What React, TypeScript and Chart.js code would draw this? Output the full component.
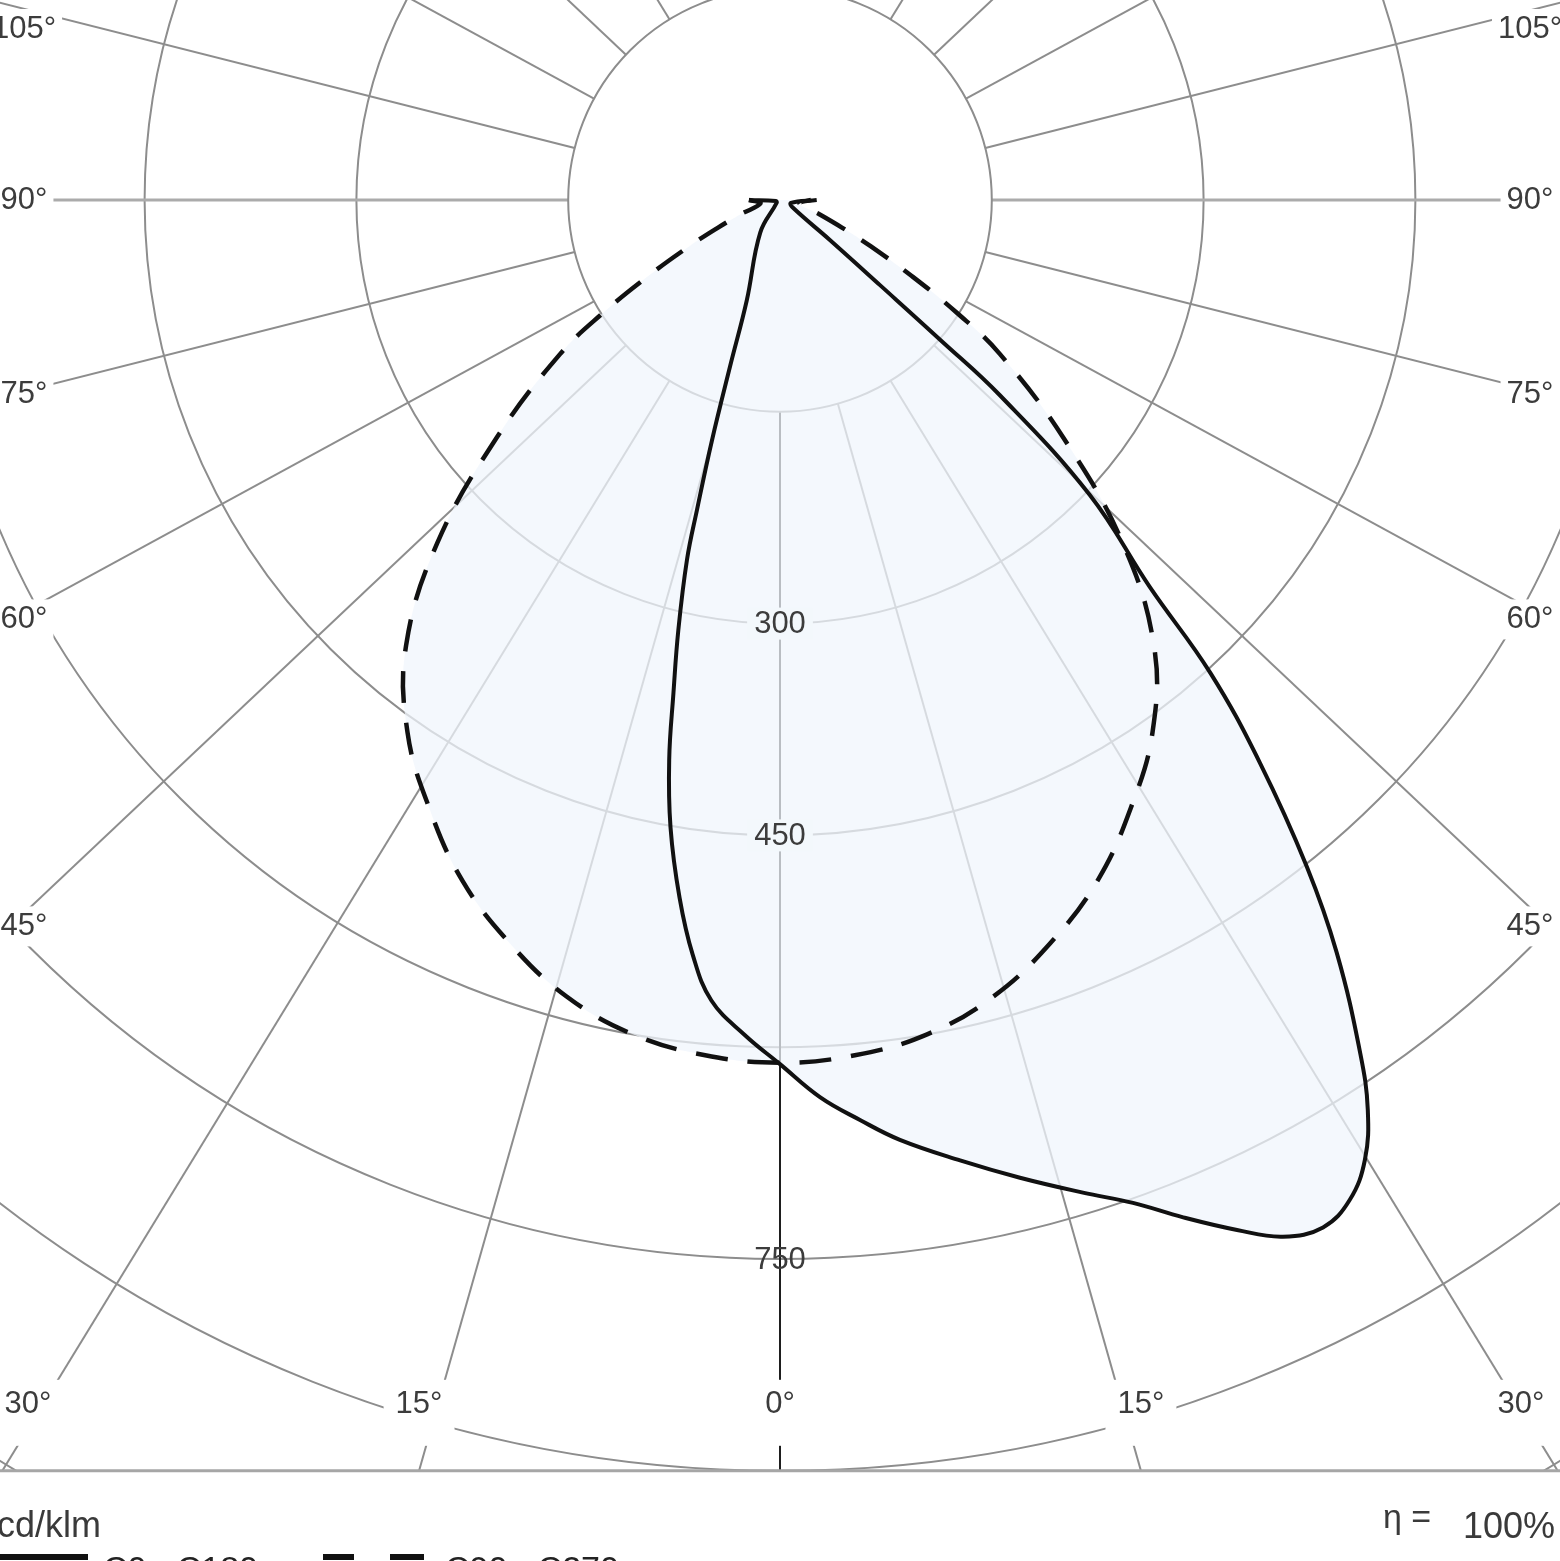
import React, { useEffect, useRef } from "react";
import { Chart, registerables } from "chart.js";

Chart.register(...registerables);

// gamma angle in degrees from nadir: negative = C180 half, positive = C0 half
const c0Angles = [
    -90, -75, -50, -31.2, -18.3, -16.7, -15.8, -15, -14.5, -13.3, -12.2, -11.2, -9.9, -8.2, -6.6, -4.9, -2.4, 0,
    2.55, 4.97, 7.27, 10.62, 13.79, 16.97, 19.39, 21.62, 23.93, 25.88, 27.86, 29.68, 31.36, 32.87, 34.21,
    36.49, 38.31, 40.45, 42.3, 43.7, 46.4, 48.4, 48.9, 49.6, 51.3, 60, 75, 90,
];
const c0Values = [
    22, 3, 3, 27, 75, 123, 177, 227, 263, 313, 357, 404, 451, 499, 538, 569, 592, 612,
    636, 654, 671, 692, 713, 735, 753, 775, 798, 816, 823, 815, 796, 767, 731,
    663, 602, 524, 453, 379, 303, 208, 151, 93, 45, 10, 8, 26,
];

// C90 - C270 plane is symmetric, gamma 0..90
const c90Angles = [0, 5, 10, 15, 20, 25, 30, 35, 40, 45, 50, 55, 57.5, 60, 63, 66, 70, 80, 90];
const c90Values = [611, 608, 600, 584, 560, 532, 497, 460, 412, 343, 262, 190, 148, 108, 72, 48, 30, 14, 22];

const ringValues = [150, 300, 450, 600, 750, 900, 1050, 1200, 1350];
const ringLabels = [300, 450, 750];
const angleLabels = [0, 15, 30, 45, 60, 75, 90, 105];
const spokeAngles = Array.from({ length: 24 }, (_, i) => -165 + 15 * i);
const frameValue = 900;

const W = 1560;
const H = 1561;
const CX = 780;
const CY = 200;
const PX_PER_CD = 1.412;
const SPOKE_STRETCH = 1.06;
const FONT = '"Liberation Sans", Arial, sans-serif';
const GRID = "#8d8d8d";
const FILL = "rgba(240,246,252,0.74)";
const LABEL_BG = "#f3f8fc";

const toXY = (angle: number, value: number) => {
    const r = (angle * Math.PI) / 180;
    return { x: value * Math.sin(r), y: -value * Math.cos(r) };
};

const spokeDir = (angle: number): [number, number] => {
    const r = (angle * Math.PI) / 180;
    const dx = SPOKE_STRETCH * Math.sin(r);
    const dy = Math.cos(r);
    const n = Math.hypot(dx, dy);
    return [dx / n, dy / n];
};

const c0Points = c0Angles.map((a, i) => toXY(a, c0Values[i]));
const c90Points = [
    ...c90Angles.slice(1).reverse().map((a, i) => toXY(-a, c90Values[c90Values.length - 1 - i])),
    ...c90Angles.map((a, i) => toXY(a, c90Values[i])),
];

const polarPlugin = {
    id: "polarGrid",
    beforeDraw(chart: any) {
        const { ctx } = chart;
        ctx.save();
        ctx.fillStyle = "#fff";
        ctx.fillRect(0, 0, chart.width, chart.height);
        ctx.restore();
    },
    beforeDatasetsDraw(chart: any) {
        const { ctx } = chart;
        const xs = chart.scales.x;
        const ys = chart.scales.y;
        const cx = xs.getPixelForValue(0);
        const cy = ys.getPixelForValue(0);
        const unit = xs.getPixelForValue(1) - cx;
        const frameY = ys.getPixelForValue(-frameValue);
        const r0 = ringValues[0] * unit;

        ctx.save();
        ctx.beginPath();
        ctx.rect(0, 0, chart.width, frameY);
        ctx.clip();

        // rings
        ctx.lineWidth = 2;
        ctx.strokeStyle = GRID;
        for (const v of ringValues.slice(1)) {
            ctx.beginPath();
            ctx.arc(cx, cy, v * unit, 0, Math.PI * 2);
            ctx.stroke();
        }
        // spokes
        for (const a of spokeAngles) {
            const [dx, dy] = spokeDir(a);
            ctx.beginPath();
            ctx.moveTo(cx + dx * r0, cy + dy * r0);
            ctx.lineTo(cx + dx * 4000, cy + dy * 4000);
            if (a === 0) {
                ctx.strokeStyle = "#1e1e1e";
                ctx.lineWidth = 2;
            } else if (Math.abs(a) === 90) {
                ctx.strokeStyle = "#ababab";
                ctx.lineWidth = 3;
            } else {
                ctx.strokeStyle = GRID;
                ctx.lineWidth = 2;
            }
            ctx.stroke();
        }
        // inner disc
        ctx.beginPath();
        ctx.arc(cx, cy, r0, 0, Math.PI * 2);
        ctx.fillStyle = "#fff";
        ctx.fill();
        ctx.strokeStyle = GRID;
        ctx.lineWidth = 2;
        ctx.stroke();
        ctx.restore();

        // light fill of the union of both curves
        ctx.save();
        ctx.beginPath();
        for (const meta of chart.getSortedVisibleDatasetMetas()) {
            const line = meta.dataset;
            if (line && typeof line.path === "function") {
                if (typeof line.updateControlPoints === "function") line.updateControlPoints(chart.chartArea, "x");
                line.path(ctx);
            } else {
                meta.data.forEach((p: any, i: number) => (i ? ctx.lineTo(p.x, p.y) : ctx.moveTo(p.x, p.y)));
            }
            ctx.closePath();
        }
        ctx.fillStyle = FILL;
        ctx.fill("nonzero");
        ctx.restore();

        // intensity labels along the 0° axis
        ctx.save();
        ctx.font = `31px ${FONT}`;
        ctx.textAlign = "center";
        ctx.textBaseline = "middle";
        for (const v of ringLabels) {
            const yy = ys.getPixelForValue(-v);
            const text = String(v);
            if (v < 600) {
                const w = ctx.measureText(text).width;
                ctx.fillStyle = LABEL_BG;
                ctx.fillRect(cx - w / 2 - 7, yy - 16, w + 14, 32);
            }
            ctx.fillStyle = "#3c3c3c";
            ctx.fillText(text, cx, yy + 1);
        }
        ctx.restore();
    },
    afterDraw(chart: any) {
        const { ctx } = chart;
        const xs = chart.scales.x;
        const ys = chart.scales.y;
        const cx = xs.getPixelForValue(0);
        const cy = ys.getPixelForValue(0);
        const frameY = ys.getPixelForValue(-frameValue);

        ctx.save();
        ctx.font = `31px ${FONT}`;
        ctx.textAlign = "center";
        ctx.textBaseline = "middle";
        for (const a of angleLabels) {
            const sides = a === 0 ? [1] : [-1, 1];
            for (const side of sides) {
                const [dx, dy] = spokeDir(a * side);
                const text = `${a}°`;
                const w = ctx.measureText(text).width;
                let lx: number;
                let ly: number;
                ctx.fillStyle = "#fff";
                if (a < 45) {
                    const t = (frameY - cy) / dy;
                    lx = Math.min(Math.max(cx + t * dx, 28), W - 39);
                    ly = frameY - 66;
                    ctx.fillRect(lx - w / 2 - 12, frameY - 91, w + 24, 66);
                } else {
                    const edge = side < 0 ? 10 : W - 10;
                    const t = (edge - cx) / dx;
                    ly = Math.max(29, cy + t * dy);
                    lx = side < 0 ? 24 : W - 30;
                    if (side < 0) ctx.fillRect(0, ly - 20, lx + w / 2 + 6, 40);
                    else ctx.fillRect(lx - w / 2 - 6, ly - 20, W - (lx - w / 2 - 6), 40);
                }
                ctx.fillStyle = "#3c3c3c";
                ctx.fillText(text, lx, ly);
            }
        }

        // bottom frame line
        ctx.strokeStyle = "#a6a6a6";
        ctx.lineWidth = 3;
        ctx.beginPath();
        ctx.moveTo(0, frameY);
        ctx.lineTo(W, frameY);
        ctx.stroke();

        // footer
        ctx.fillStyle = "#3a3a3a";
        ctx.textAlign = "left";
        ctx.textBaseline = "alphabetic";
        ctx.font = `36px ${FONT}`;
        ctx.fillText("cd/klm", -3, 1537);
        ctx.font = `34px ${FONT}`;
        ctx.fillText("η =", 1383, 1528);
        ctx.font = `36px ${FONT}`;
        ctx.fillText("100%", 1463, 1538);

        // legend (cut off by the page edge)
        const ds = chart.data.datasets;
        ctx.strokeStyle = "#111";
        ctx.lineWidth = 6;
        ctx.beginPath();
        ctx.moveTo(-2, 1557);
        ctx.lineTo(88, 1557);
        ctx.stroke();
        ctx.beginPath();
        ctx.moveTo(323, 1557);
        ctx.lineTo(354, 1557);
        ctx.moveTo(390, 1557);
        ctx.lineTo(424, 1557);
        ctx.stroke();
        ctx.font = `34px ${FONT}`;
        ctx.fillStyle = "#222";
        ctx.fillText(ds[0].label, 103, 1580);
        ctx.fillText(ds[1].label, 445, 1580);
        ctx.restore();
    },
};

const App: React.FC = () => {
    const canvasRef = useRef<HTMLCanvasElement | null>(null);

    useEffect(() => {
        if (!canvasRef.current) return;
        const chart = new Chart(canvasRef.current, {
            type: "scatter",
            data: {
                datasets: [
                    {
                        label: "C0 - C180",
                        data: c0Points,
                        showLine: true,
                        borderColor: "#111",
                        borderWidth: 4,
                        pointRadius: 0,
                        tension: 0.4,
                        fill: false,
                    },
                    {
                        label: "C90 - C270",
                        data: c90Points,
                        showLine: true,
                        borderColor: "#111",
                        borderWidth: 4.5,
                        borderDash: [32, 20],
                        pointRadius: 0,
                        tension: 0.4,
                        fill: false,
                    },
                ],
            },
            options: {
                responsive: false,
                animation: false,
                devicePixelRatio: 1,
                layout: { padding: 0 },
                scales: {
                    x: { type: "linear", min: -CX / PX_PER_CD, max: (W - CX) / PX_PER_CD, display: false },
                    y: { type: "linear", min: -(H - CY) / PX_PER_CD, max: CY / PX_PER_CD, display: false },
                },
                plugins: {
                    legend: { display: false },
                    tooltip: { enabled: false },
                },
            },
            plugins: [polarPlugin],
        });
        return () => chart.destroy();
    }, []);

    return (
        <div style={{ position: "absolute", left: 0, top: 0, width: W, height: H, background: "#fff" }}>
            <canvas ref={canvasRef} width={W} height={H} style={{ display: "block", width: W, height: H }} />
        </div>
    );
};

export default App;
